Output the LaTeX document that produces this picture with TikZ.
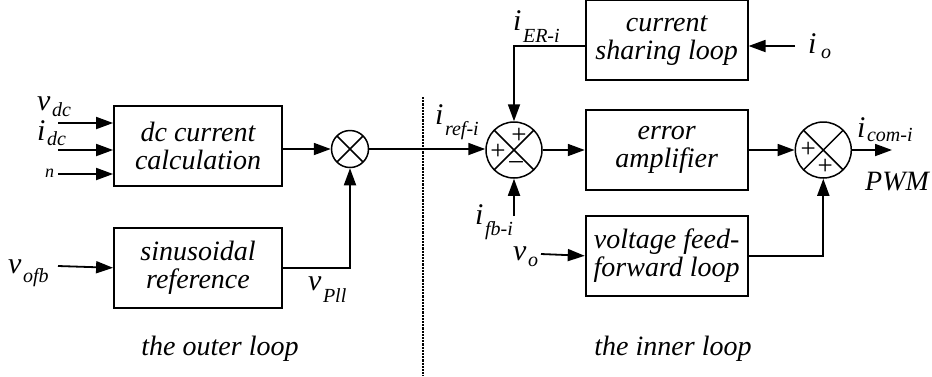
\documentclass[tikz,border=0pt]{standalone}
\usepackage{fontspec}
\setmainfont{Liberation Serif}
\usetikzlibrary{arrows.meta, positioning, calc}
\newcommand{\varsub}[3][.3em]{#2\hspace{1.5pt}\raisebox{-#1}{\fontsize{20}{20}\selectfont #3}}

\begin{document}
\begin{tikzpicture}[
    x=1pt, y=-1pt,
    font=\itshape\fontsize{28}{28}\selectfont,
    block/.style={rectangle, draw, line width=1.8pt, minimum width=168pt, minimum height=80pt, align=center, inner sep=2pt},
    sumjn/.style={circle, draw, line width=1.5pt, minimum size=56pt, inner sep=0pt, path picture={\draw[line width=1.5pt] (path picture bounding box.south west) -- (path picture bounding box.north east) (path picture bounding box.north west) -- (path picture bounding box.south east);}},
    multjn/.style={sumjn, minimum size=37pt},
    sgn/.style={font=\upshape\fontsize{27}{27}\selectfont, inner sep=0pt},
    lbl/.style={anchor=base west, inner sep=0pt, font=\itshape\fontsize{30}{30}\selectfont},
    arrow/.style={-{Triangle[length=17pt, width=12pt]}, line width=1.8pt},
    divider/.style={line width=2.2pt, densely dotted}
]
\useasboundingbox (0,0) rectangle (932,376);

\node[block] (dccalc) at (198,146) {dc current\\calculation};
\node[block, below=40pt of dccalc] (sinref) {sinusoidal\\reference};
\node[multjn] (mult) at (350,149) {};
\node[sumjn] (sum1) at (514,150) {};
\node[block, minimum width=162pt, right=42pt of sum1] (erramp) {error\\amplifier};
\node[block, minimum width=162pt, above=28pt of erramp] (curshare) {current\\sharing loop};
\node[block, minimum width=162pt, below=24pt of erramp] (vff) {voltage feed-\\forward loop};
\node[sumjn, right=46pt of erramp] (sum2) {};

\node[sgn] at ([shift={(5,-14)}]sum1.center) {+};
\node[sgn] at ([shift={(-16,2)}]sum1.center) {+};
\node[sgn] at ([shift={(2,15)}]sum1.center) {--};
\node[sgn] at ([shift={(-15,0)}]sum2.center) {+};
\node[sgn] at ([shift={(2,17)}]sum2.center) {+};

\coordinate (invdc) at (58,123);
\coordinate (inidc) at (58,150);
\coordinate (inn) at (58,174);
\coordinate (invofb) at (58,266);
\coordinate (inio) at (795,46);
\coordinate (inifb) at (514,216);
\coordinate (invo) at (541,254);
\coordinate (outcom) at (892,150);

\draw[arrow] (invdc) -- (invdc -| dccalc.west);
\draw[arrow] (inidc) -- (inidc -| dccalc.west);
\draw[arrow] (inn) -- (inn -| dccalc.west);
\draw[arrow] (invofb) -- (sinref.west);
\draw[arrow] (dccalc.east |- mult) -- (mult);
\draw[arrow] (sinref.east) -| (mult.south);
\draw[arrow] (mult.east) -- (mult.east -| sum1.west);
\draw[arrow] (sum1) -- (erramp);
\draw[arrow] (inio -| curshare.west) -| (sum1.north);
\draw[arrow] (inio) -- (inio -| curshare.east);
\draw[arrow] (inifb) -- (sum1.south);
\draw[arrow] (invo) -- (vff.west);
\draw[arrow] (erramp) -- (sum2);
\draw[arrow] (vff.east) -| (sum2.south);
\draw[arrow] (sum2) -- (outcom);
\draw[divider] (423,97) -- (423,376);

\node[lbl] (lvdc) at (37,110) {\varsub[.22em]{v}{dc}};
\node[lbl] (lidc) at (37,140) {\varsub[.18em]{i}{dc}};
\node[lbl, font=\itshape\fontsize{18}{18}\selectfont] (ln) at (45,177) {n};
\node[lbl] (lvofb) at (8,273) {\varsub{v}{ofb}};
\node[lbl] (lvpll) at (308,290) {\varsub[.4em]{v}{Pll}};
\node[lbl] (liref) at (435,124) {\varsub[.38em]{i}{ref-i}};
\node[lbl] (lier) at (513,30) {\varsub[.4em]{i}{ER-i}};
\node[lbl] (lifb) at (475,224) {\varsub[.38em]{i}{fb-i}};
\node[lbl] (lvo) at (513,260) {\varsub[.22em]{v}{o}};
\node[lbl] (lio) at (808,53) {\varsub[.18em]{i\hspace{3pt}}{o}};
\node[lbl] (licom) at (857,137) {\varsub[.15em]{i}{com-i}};
\node[lbl, font=\itshape\fontsize{28}{28}\selectfont] (lpwm) at (865,190) {PWM};
\node[anchor=base] (louter) at (220,355) {the outer loop};
\node[anchor=base] (linner) at (673,355) {the inner loop};

\end{tikzpicture}
\end{document}
